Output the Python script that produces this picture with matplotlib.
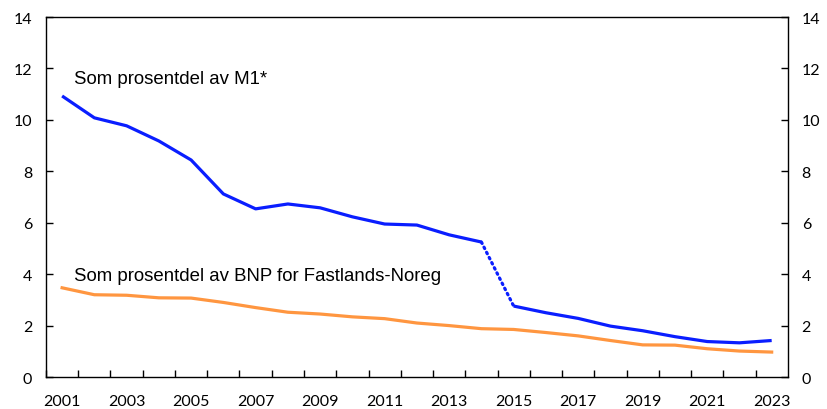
import matplotlib
matplotlib.use("Agg")
import matplotlib.pyplot as plt

years = list(range(2001, 2024))
m1_share = [10.93, 10.08, 9.77, 9.18, 8.44, 7.12, 6.54, 6.73, 6.58, 6.23, 5.95, 5.91,
            5.53, 5.25, 2.76, 2.50, 2.28, 1.98, 1.80, 1.57, 1.38, 1.33, 1.42]
bnp_share = [3.47, 3.20, 3.18, 3.08, 3.07, 2.90, 2.70, 2.52, 2.45, 2.34, 2.27, 2.10,
             2.00, 1.88, 1.85, 1.73, 1.60, 1.42, 1.25, 1.24, 1.10, 1.01, 0.97]
tick_years = years[::2]

blue = "#0A1EFF"
orange = "#FF9640"

fig = plt.figure(figsize=(8.27, 4.10), dpi=100)
ax = fig.add_axes([0.0556, 0.078, 0.897, 0.878])

# blue line: solid up to 2014, dotted break 2014-2015, solid again after
i = years.index(2014)
ax.plot(years[:i + 1], m1_share[:i + 1], color=blue, lw=2.3, solid_capstyle="butt")
ax.plot(years[i:i + 2], m1_share[i:i + 2], color=blue, lw=2.3, linestyle=(0, (0.5, 1.3)),
        dash_capstyle="round")
ax.plot(years[i + 1:], m1_share[i + 1:], color=blue, lw=2.3, solid_capstyle="butt")
ax.plot(years, bnp_share, color=orange, lw=2.3)

ax.set_xlim(2000.5, 2023.5)
ax.set_ylim(0, 14)
ax.set_yticks(range(0, 15, 2))
ax.set_xticks([y + 0.5 for y in range(2000, 2023)])
ax.set_xticklabels([])
ax.set_xticks(tick_years, minor=True)
ax.set_xticklabels([str(y) for y in tick_years], minor=True)
ax.tick_params(axis="x", which="major", direction="in", length=5, width=1)
ax.tick_params(axis="x", which="minor", length=0, pad=12, labelsize=11.5)
ax.tick_params(axis="y", direction="in", length=5, width=1, labelsize=11.5,
               right=True, labelright=True, pad=10)
for lab in ax.get_xticklabels(minor=True) + ax.get_yticklabels():
    lab.set_fontfamily("Lato")
for s in ax.spines.values():
    s.set_linewidth(1)

ax.text(2001.37, 11.6, "Som prosentdel av M1*", fontsize=13.4, family="Liberation Sans",
        va="center", ha="left")
ax.text(2001.37, 3.93, "Som prosentdel av BNP for Fastlands-Noreg", fontsize=13.4,
        family="Liberation Sans", va="center", ha="left")

fig.savefig("out.png", dpi=100)
